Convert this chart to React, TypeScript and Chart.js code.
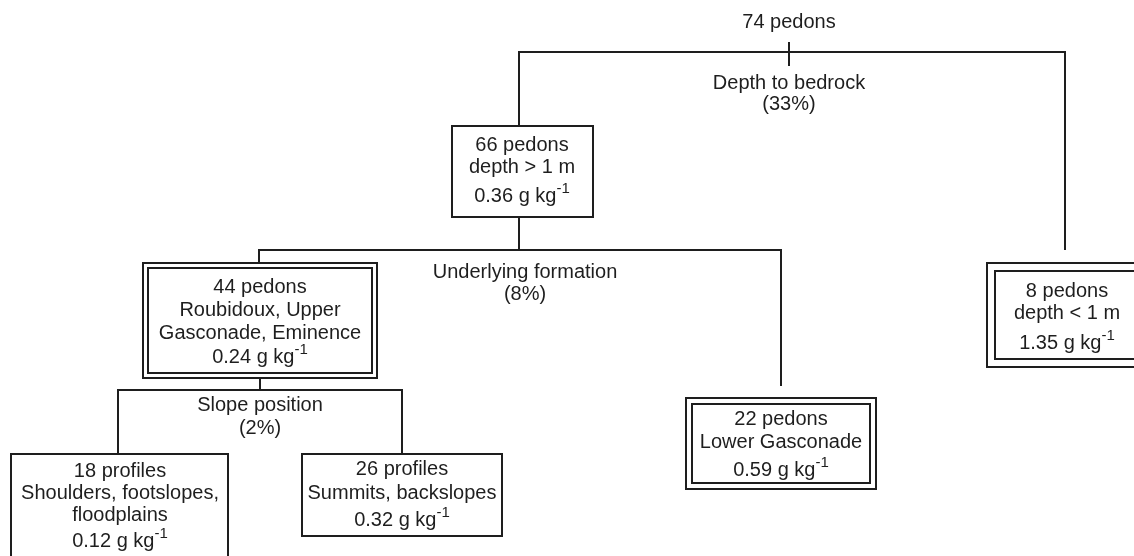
import React, { useEffect, useRef } from "react";
import { Chart, registerables } from "chart.js";

Chart.register(...registerables);

// ---- Data (regression tree content) ----
const nodeCounts = ["74 pedons", "66 pedons", "8 pedons", "44 pedons", "22 pedons", "18 profiles", "26 profiles"];
const nodeDescriptions: string[][] = [
  [],
  ["depth > 1 m"],
  ["depth < 1 m"],
  ["Roubidoux, Upper", "Gasconade, Eminence"],
  ["Lower Gasconade"],
  ["Shoulders, footslopes,", "floodplains"],
  ["Summits, backslopes"],
];
const nodeMeans: (number | null)[] = [null, 0.36, 1.35, 0.24, 0.59, 0.12, 0.32];
const meanUnit = "g kg";
const meanUnitExp = "-1";
const splitNames = ["Depth to bedrock", "Underlying formation", "Slope position"];
const splitShares = [33, 8, 2];

// ---- Layout (diagram coordinates) ----
const W = 1134;
const H = 556;
// node boxes: [x0, x1, y0, y1, doubleInset (0 = single)]
const nodeBoxes: (number[] | null)[] = [
  null,
  [452, 593, 126, 217, 0],
  [987, 1150, 263, 367, 8],
  [143, 377, 263, 378, 5],
  [686, 876, 398, 489, 6],
  [11, 228, 454, 575, 0],
  [302, 502, 454, 536, 0],
];
// text centre x, first line y, line gap, gap before mean
const nodeText: number[][] = [
  [789, 22, 22, 0],
  [522, 145, 22, 29],
  [1067, 291, 22, 30],
  [260, 287, 23, 24],
  [781, 419, 23, 28],
  [120, 471, 22, 26],
  [402, 469, 24, 27],
];
const splitText: number[][] = [
  [789, 83, 21],
  [525, 272, 22],
  [260, 405, 23],
];
// connector polylines [x, y] pairs
const edges: number[][][] = [
  [[789, 42], [789, 66]],
  [[519, 126], [519, 52], [1065, 52], [1065, 250]],
  [[519, 217], [519, 250]],
  [[259, 263], [259, 250], [781, 250], [781, 386]],
  [[260, 378], [260, 390]],
  [[118, 454], [118, 390], [402, 390], [402, 454]],
];

const INK = "#1e1e1e";
const FONT = "'Liberation Sans', Arial, Helvetica, sans-serif";

const treePlugin = {
  id: "treeNodes",
  afterDatasetsDraw(chart: any) {
    const { ctx } = chart;
    const xs = chart.scales.x;
    const ys = chart.scales.y;
    const px = (v: number) => xs.getPixelForValue(v);
    const py = (v: number) => ys.getPixelForValue(v);
    ctx.save();
    ctx.strokeStyle = INK;
    ctx.lineWidth = 2;
    // boxes
    nodeBoxes.forEach((b) => {
      if (!b) return;
      const [x0, x1, y0, y1, inset] = b;
      ctx.fillStyle = "#ffffff";
      ctx.fillRect(px(x0), py(y0), px(x1) - px(x0), py(y1) - py(y0));
      ctx.strokeRect(px(x0), py(y0), px(x1) - px(x0), py(y1) - py(y0));
      if (inset > 0) {
        ctx.strokeRect(px(x0 + inset), py(y0 + inset), px(x1 - inset) - px(x0 + inset), py(y1 - inset) - py(y0 + inset));
      }
    });
    ctx.fillStyle = INK;
    ctx.textAlign = "center";
    ctx.textBaseline = "middle";
    const mainFont = `20px ${FONT}`;
    const supFont = `15px ${FONT}`;
    // node texts
    nodeCounts.forEach((label, i) => {
      const [cx, y0, gap, meanGap] = nodeText[i];
      ctx.font = mainFont;
      ctx.textAlign = "center";
      let y = y0;
      ctx.fillText(label, px(cx), py(y));
      nodeDescriptions[i].forEach((d) => {
        y += gap;
        ctx.fillText(d, px(cx), py(y));
      });
      const m = nodeMeans[i];
      if (m !== null) {
        y += meanGap;
        const mainStr = `${m.toFixed(2)} ${meanUnit}`;
        ctx.font = mainFont;
        const w1 = ctx.measureText(mainStr).width;
        ctx.font = supFont;
        const w2 = ctx.measureText(meanUnitExp).width;
        const start = px(cx) - (w1 + w2) / 2;
        ctx.textAlign = "left";
        ctx.font = mainFont;
        ctx.fillText(mainStr, start, py(y));
        ctx.font = supFont;
        ctx.fillText(meanUnitExp, start + w1, py(y) - 7);
        ctx.textAlign = "center";
      }
    });
    // split labels
    ctx.font = mainFont;
    splitNames.forEach((name, i) => {
      const [cx, y0, gap] = splitText[i];
      ctx.fillText(name, px(cx), py(y0));
      ctx.fillText(`(${splitShares[i]}%)`, px(cx), py(y0 + gap));
    });
    ctx.restore();
  },
};

export default function App() {
  const ref = useRef<HTMLCanvasElement | null>(null);
  useEffect(() => {
    if (!ref.current) return;
    const chart = new Chart(ref.current, {
      type: "scatter",
      data: {
        datasets: edges.map((pts) => ({
          data: pts.map(([x, y]) => ({ x, y })),
          showLine: true,
          borderColor: INK,
          borderWidth: 2,
          pointRadius: 0,
          pointHoverRadius: 0,
          fill: false,
          tension: 0,
        })),
      },
      options: {
        responsive: false,
        animation: false,
        events: [],
        layout: { padding: 0 },
        scales: {
          x: { type: "linear", min: 0, max: W, display: false },
          y: { type: "linear", min: 0, max: H, reverse: true, display: false },
        },
        plugins: {
          legend: { display: false },
          tooltip: { enabled: false },
          title: { display: false },
        },
      },
      plugins: [treePlugin],
    });
    return () => chart.destroy();
  }, []);
  return (
    <div style={{ position: "fixed", left: 0, top: 0, width: W, height: H, background: "#fff" }}>
      <canvas ref={ref} width={W} height={H} style={{ display: "block" }} />
    </div>
  );
}
